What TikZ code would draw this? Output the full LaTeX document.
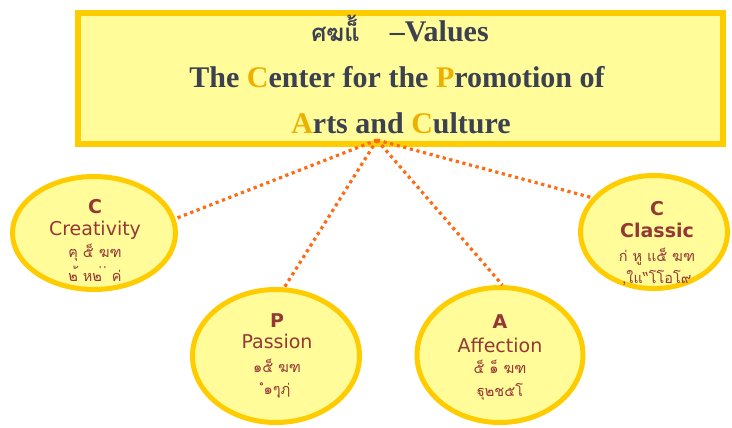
\documentclass[tikz,border=0pt]{standalone}
\usepackage{fontspec}
\setmainfont{Liberation Serif}
\newfontfamily\thaifont[Script=Thai]{Loma}
\newfontfamily\ellfont{DejaVu Sans}
\usetikzlibrary{shapes.geometric}
\definecolor{bord}{HTML}{FFCC00}
\definecolor{fillY}{HTML}{FFFC99}
\definecolor{slate}{HTML}{3B4150}
\definecolor{gold}{HTML}{EEB000}
\definecolor{dred}{HTML}{953735}
\definecolor{dotc}{HTML}{FF6A13}
\tikzset{
  titlebox/.style={draw=bord, fill=fillY, line width=6pt, rectangle, inner sep=0pt},
  oval/.style={draw=bord, fill=fillY, line width=5pt, ellipse, inner sep=0pt},
  tt/.style={font=\fontsize{30}{32}\selectfont\bfseries, text=slate, anchor=base, inner sep=0pt},
  letter/.style={font=\ellfont\fontsize{19}{21}\selectfont\bfseries, text=dred, anchor=base, inner sep=0pt},
  word/.style={font=\ellfont\fontsize{19}{21}\selectfont, text=dred, anchor=base, inner sep=0pt},
  bword/.style={font=\ellfont\fontsize{19}{21}\selectfont\bfseries, text=dred, anchor=base, inner sep=0pt},
  thai/.style={font=\thaifont\fontsize{14.5}{16}\selectfont, text=dred, anchor=base, inner sep=0pt},
  link/.style={draw=dotc, line width=3.2pt, dash pattern=on 3.2pt off 3.6pt}
}
\begin{document}
\begin{tikzpicture}[x=1pt,y=-1pt]
\useasboundingbox (0,0) rectangle (732,428);
% title box
\node[titlebox, minimum width=645pt, minimum height=131pt] (title) at (400.5,78.5) {};
\node[tt] (t1) at (400,42) {{\thaifont\fontsize{24}{26}\selectfont ศฆแ็้}\hspace{30pt}–Values};
\node[tt] (t2) at (397,88) {The \textcolor{gold}{C}enter for the \textcolor{gold}{P}romotion of};
\node[tt] (t3) at (401,133) {\textcolor{gold}{A}rts and \textcolor{gold}{C}ulture};
% ovals
\node[oval, minimum width=163pt, minimum height=113pt] (cre) at (94,233) {};
\node[oval, minimum width=147pt, minimum height=113pt] (cla) at (654,232) {};
\node[oval, minimum width=167pt, minimum height=133pt] (pas) at (276,356) {};
\node[oval, minimum width=166pt, minimum height=135pt] (aff) at (500,355) {};
% Creativity
\node[letter] (creL) at (95,213) {C};
\node[word] (creW) at (95,235) {Creativity};
\node[thai] (creT1) at (95,257) {ฅุ ๕็ ฆฑ};
\node[thai] (creT2) at (95,281) {๒้ ห๒่ ่ ค่};
% Classic
\node[letter] (claL) at (657,215) {C};
\node[bword] (claW) at (657,237) {Classic};
\node[thai] (claT1) at (657,261) {ก่ หู แ๕็ ฆฑ};
\node[thai] (claT2) at (657,283) {,ใแ“โโอโ๙};
% Passion
\node[letter] (pasL) at (277,327) {P};
\node[word] (pasW) at (277,348) {Passion};
\node[thai] (pasT1) at (277,372) {๑๕็ ฆฑ};
\node[thai] (pasT2) at (277,394) {ํ๑ๆุฦ่};
% Affection
\node[letter] (affL) at (500,328) {A};
\node[word] (affW) at (500,352) {Affection};
\node[thai] (affT1) at (500,373) {๕็ ๑็ ฆฑ};
\node[thai] (affT2) at (500,396) {ฐุ๒ช๕โ};
% connectors
\coordinate (hub) at (377,140);
\draw[link] (hub) -- (cre.10);
\draw[link] (hub) -- (pas.83);
\draw[link] (hub) -- (aff.88);
\draw[link] (hub) -- (cla.151);
\end{tikzpicture}
\end{document}
